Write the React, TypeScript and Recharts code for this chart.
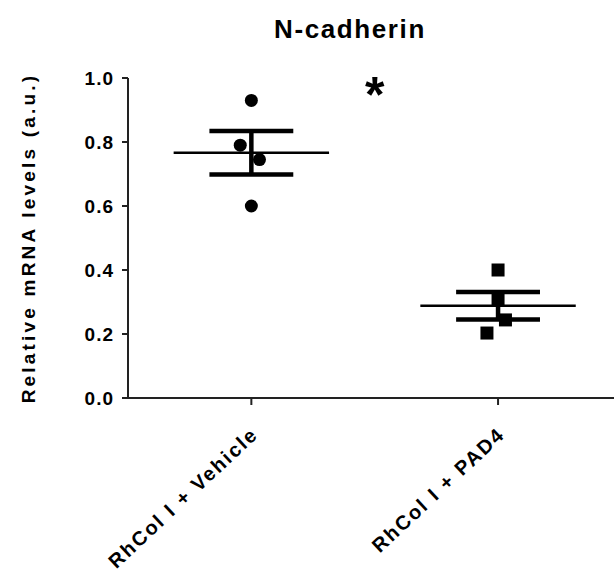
import { ComposedChart, Scatter, XAxis, YAxis, ReferenceLine, ReferenceDot } from "recharts";

const GROUPS = ["RhCol I + Vehicle", "RhCol I + PAD4"];
const VEHICLE = [0.93, 0.79, 0.745, 0.6];
const PAD4 = [0.4, 0.306, 0.244, 0.203];
const Y_TICKS = [0, 0.2, 0.4, 0.6, 0.8, 1.0];
const SIGNIFICANCE = "*";

// horizontal spread of the dots, in x-axis units
const JITTER = [
  [0, -0.045, 0.033, 0],
  [0, 0, 0.03, -0.045],
];
const MEAN_HALF = 0.315;
const CAP_HALF = 0.17;
const FONT = "Arial, 'Liberation Sans', sans-serif";
const INK = "#000";

const stats = (vals: number[]) => {
  const m = vals.reduce((a, b) => a + b, 0) / vals.length;
  const sd = Math.sqrt(vals.reduce((a, b) => a + (b - m) ** 2, 0) / (vals.length - 1));
  return { m, sem: sd / Math.sqrt(vals.length) };
};

const series = [VEHICLE, PAD4];
const points = series.map((vals, g) => vals.map((v, i) => ({ x: g + 0.5 + JITTER[g][i], y: v })));

const segments = series.flatMap((vals, g) => {
  const c = g + 0.5;
  const { m, sem } = stats(vals);
  return [
    { seg: [{ x: c - MEAN_HALF, y: m }, { x: c + MEAN_HALF, y: m }], w: 2.5 },
    { seg: [{ x: c - CAP_HALF, y: m + sem }, { x: c + CAP_HALF, y: m + sem }], w: 4.5 },
    { seg: [{ x: c - CAP_HALF, y: m - sem }, { x: c + CAP_HALF, y: m - sem }], w: 4.5 },
    { seg: [{ x: c, y: m - sem }, { x: c, y: m + sem }], w: 4.5 },
  ];
});

const Dot = (p: any) => <circle cx={p.cx} cy={p.cy} r={6.5} fill={INK} />;
const Square = (p: any) => <rect x={p.cx - 6.5} y={p.cy - 6.5} width={13} height={13} fill={INK} />;

const XTick = ({ x, y, payload }: any) => (
  <g transform={`translate(${x + 8},${y + 29})`}>
    <text
      textAnchor="end"
      transform="rotate(-43)"
      fontSize={20}
      fontWeight="bold"
      letterSpacing={2}
      fontFamily={FONT}
      fill={INK}
    >
      {GROUPS[Math.floor(payload.value)]}
    </text>
  </g>
);

const Star = (p: any) => (
  <text x={p.cx} y={p.cy + 28} textAnchor="middle" fontSize={50} fontWeight="bold" fontFamily={FONT} fill={INK}>
    {SIGNIFICANCE}
  </text>
);

export default function App() {
  return (
    <div style={{ position: "absolute", left: 0, top: 0, width: 614, height: 573, background: "#fff", overflow: "hidden" }}>
      <div
        style={{
          position: "absolute",
          left: 200,
          width: 300,
          top: 16,
          textAlign: "center",
          fontFamily: FONT,
          fontWeight: "bold",
          fontSize: 26,
          lineHeight: "26px",
          letterSpacing: 1.6,
          color: INK,
        }}
      >
        N-cadherin
      </div>
      <ComposedChart width={614} height={573} margin={{ top: 78, right: 0, bottom: 0, left: 0 }}>
        <XAxis
          type="number"
          dataKey="x"
          domain={[0, 1.97]}
          ticks={[0.5, 1.5]}
          allowDataOverflow
          height={175}
          tickSize={7}
          tickMargin={2}
          tick={<XTick />}
          axisLine={{ stroke: "#222", strokeWidth: 2 }}
          tickLine={{ stroke: "#222", strokeWidth: 2 }}
        />
        <YAxis
          type="number"
          dataKey="y"
          domain={[0, 1]}
          ticks={Y_TICKS}
          width={128}
          tickSize={6}
          tickMargin={8}
          tickFormatter={(v: number) => v.toFixed(1)}
          tick={{ fontSize: 19, fontWeight: "bold", fill: INK, fontFamily: FONT, letterSpacing: 1 }}
          axisLine={{ stroke: "#222", strokeWidth: 2 }}
          tickLine={{ stroke: "#222", strokeWidth: 2 }}
          label={{
            content: () => (
              <text
                x={28}
                y={238}
                transform="rotate(-90 28 238)"
                textAnchor="middle"
                dominantBaseline="central"
                fontSize={19}
                fontWeight="bold"
                letterSpacing={3.2}
                fontFamily={FONT}
                fill={INK}
              >
                Relative mRNA levels (a.u.)
              </text>
            ),
          }}
        />
        {segments.map((s, i) => (
          <ReferenceLine key={i} segment={s.seg} stroke={INK} strokeWidth={s.w} ifOverflow="visible" />
        ))}
        <Scatter data={points[0]} shape={Dot} isAnimationActive={false} />
        <Scatter data={points[1]} shape={Square} isAnimationActive={false} />
        <ReferenceDot x={1} y={0.98} r={0} shape={Star} ifOverflow="visible" />
      </ComposedChart>
    </div>
  );
}
